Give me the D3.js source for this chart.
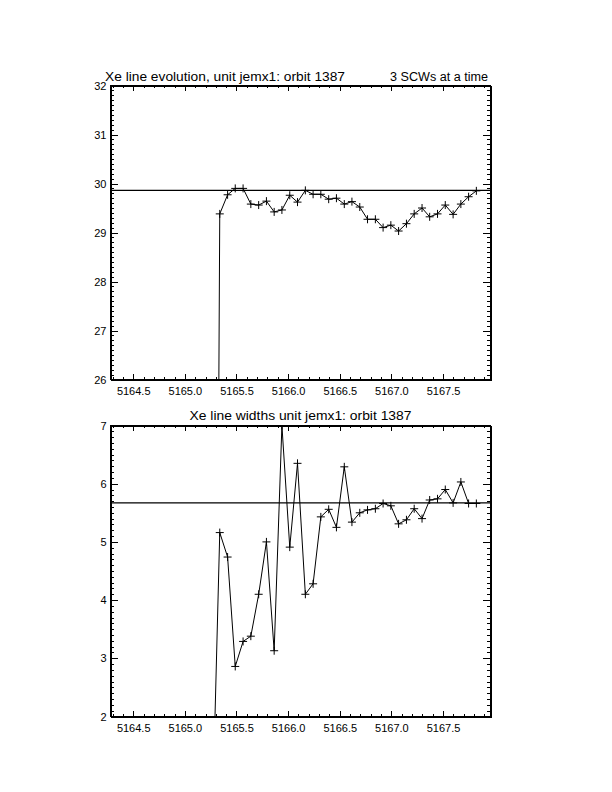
<!DOCTYPE html>
<html>
<head>
<meta charset="utf-8">
<script src="https://cdn.jsdelivr.net/npm/d3@7"></script>
<style>
  html, body { margin: 0; padding: 0; background: #fff; }
  svg { display: block; }
  text { font-family: "Liberation Sans", Arial, sans-serif; fill: #000; }
</style>
</head>
<body>
<svg id="chart" width="612" height="792"></svg>
<script>
// ---- data ----
const xValues = [5165.263, 5165.338, 5165.414, 5165.488, 5165.564, 5165.639, 5165.715,
  5165.790, 5165.865, 5165.940, 5166.016, 5166.091, 5166.167, 5166.242, 5166.317,
  5166.393, 5166.468, 5166.544, 5166.618, 5166.694, 5166.769, 5166.845, 5166.920,
  5166.995, 5167.070, 5167.146, 5167.221, 5167.297, 5167.371, 5167.447, 5167.522,
  5167.598, 5167.673, 5167.748, 5167.823];
const lineCentreValues = [0, 29.38, 29.77, 29.90, 29.90, 29.58, 29.56, 29.64, 29.42,
  29.46, 29.76, 29.62, 29.86, 29.78, 29.78, 29.68, 29.70, 29.58, 29.63, 29.52, 29.27,
  29.27, 29.10, 29.15, 29.03, 29.18, 29.38, 29.50, 29.32, 29.38, 29.56, 29.37, 29.58,
  29.73, 29.85];
const lineWidthValues = [0, 5.16, 4.74, 2.86, 3.29, 3.38, 4.10, 5.00, 3.13, 7.00, 4.91,
  6.35, 4.10, 4.28, 5.43, 5.56, 5.25, 6.29, 5.34, 5.50, 5.55, 5.57, 5.66, 5.62, 5.31,
  5.38, 5.57, 5.40, 5.72, 5.74, 5.90, 5.67, 6.03, 5.66, 5.66];
const centreMean = 29.86;
const widthMean = 5.67;

const xDomain = [5164.28, 5167.96];
const xTickValues = [5164.5, 5165.0, 5165.5, 5166.0, 5166.5, 5167.0, 5167.5];
const xTickLabels = ["5164.5", "5165.0", "5165.5", "5166.0", "5166.5", "5167.0", "5167.5"];
const topYDomain = [26, 32];
const topYTicks = [26, 27, 28, 29, 30, 31, 32];
const topYTickLabels = ["26", "27", "28", "29", "30", "31", "32"];
const botYDomain = [2, 7];
const botYTicks = [2, 3, 4, 5, 6, 7];
const botYTickLabels = ["2", "3", "4", "5", "6", "7"];
const topTitleLeft = "Xe line evolution, unit jemx1: orbit 1387";
const topTitleRight = "3 SCWs at a time";
const botTitle = "Xe line widths unit jemx1: orbit 1387";

// ---- drawing ----
const svg = d3.select("#chart");
const left = 110.5, right = 490.5;

function minorTicks(domain, step) {
  const out = [];
  const start = Math.ceil(domain[0] / step - 1e-9);
  const end = Math.floor(domain[1] / step + 1e-9);
  for (let i = start; i <= end; i++) out.push(+(i * step).toFixed(6));
  return out;
}

function panel(opts) {
  const { top, bottom, yDomain, yTicks, yLabels, values, mean, id } = opts;
  const x = d3.scaleLinear().domain(xDomain).range([left, right]);
  const y = d3.scaleLinear().domain(yDomain).range([bottom, top]);
  const h = bottom - top, w = right - left;
  const xMaj = h * 0.02, yMaj = w * 0.02;
  const g = svg.append("g");

  g.append("clipPath").attr("id", id).append("rect")
    .attr("x", left).attr("y", top).attr("width", w).attr("height", h);

  const xMinor = minorTicks(xDomain, 0.1);
  const yMinor = minorTicks(yDomain, 0.1);

  function axisGroup(tx, ty, axis) {
    const a = g.append("g").attr("transform", `translate(${tx},${ty})`);
    a.call(axis);
    return a;
  }
  // bottom axis
  axisGroup(0, bottom, d3.axisTop(x).tickValues(xMinor).tickSize(xMaj / 2).tickFormat(""));
  axisGroup(0, bottom, d3.axisTop(x).tickValues(xTickValues).tickSize(xMaj).tickFormat(""));
  const bLab = axisGroup(0, bottom, d3.axisBottom(x).tickValues(xTickValues).tickSize(0)
    .tickPadding(8).tickFormat((d, i) => xTickLabels[i]));
  bLab.select(".domain").remove();
  // top axis
  axisGroup(0, top, d3.axisBottom(x).tickValues(xMinor).tickSize(xMaj / 2).tickFormat(""));
  axisGroup(0, top, d3.axisBottom(x).tickValues(xTickValues).tickSize(xMaj).tickFormat(""));
  // left axis
  axisGroup(left, 0, d3.axisRight(y).tickValues(yMinor).tickSize(yMaj / 2).tickFormat(""));
  axisGroup(left, 0, d3.axisRight(y).tickValues(yTicks).tickSize(yMaj).tickFormat(""));
  const lLab = axisGroup(left, 0, d3.axisLeft(y).tickValues(yTicks).tickSize(0)
    .tickPadding(4).tickFormat((d, i) => yLabels[i]));
  lLab.select(".domain").remove();
  // right axis
  axisGroup(right, 0, d3.axisLeft(y).tickValues(yMinor).tickSize(yMaj / 2).tickFormat(""));
  axisGroup(right, 0, d3.axisLeft(y).tickValues(yTicks).tickSize(yMaj).tickFormat(""));

  g.selectAll(".domain").attr("stroke", "#000").attr("stroke-width", 1)
    .attr("shape-rendering", "crispEdges");
  g.selectAll(".tick line").attr("stroke", "#000").attr("stroke-width", 1)
    .attr("shape-rendering", "crispEdges");
  g.selectAll(".tick text").style("font-size", "11px")
    .style("font-family", "'Liberation Sans', Arial, sans-serif").attr("fill", "#000");

  // frame
  g.append("rect").attr("x", left).attr("y", top).attr("width", w).attr("height", h)
    .attr("fill", "none").attr("stroke", "#000").attr("stroke-width", 1)
    .attr("shape-rendering", "crispEdges");

  const data = xValues.map((xv, i) => [xv, values[i]]);
  const plot = g.append("g").attr("clip-path", `url(#${id})`);

  plot.append("line")
    .attr("x1", left).attr("x2", right)
    .attr("y1", y(mean)).attr("y2", y(mean))
    .attr("stroke", "#000").attr("stroke-width", 1.2);

  plot.append("path")
    .datum(data)
    .attr("d", d3.line().x(d => x(d[0])).y(d => y(d[1])))
    .attr("fill", "none").attr("stroke", "#000").attr("stroke-width", 1);

  const s = 4;
  plot.selectAll("path.mk").data(data).enter().append("path")
    .attr("class", "mk")
    .attr("d", d => {
      const px = x(d[0]), py = y(d[1]);
      return `M${px - s},${py}H${px + s}M${px},${py - s}V${py + s}`;
    })
    .attr("stroke", "#000").attr("stroke-width", 1).attr("fill", "none");
  return { x, y };
}

panel({ top: 85.5, bottom: 379.5, yDomain: topYDomain, yTicks: topYTicks,
  yLabels: topYTickLabels, values: lineCentreValues, mean: centreMean, id: "clipTop" });
panel({ top: 425.5, bottom: 716.5, yDomain: botYDomain, yTicks: botYTicks,
  yLabels: botYTickLabels, values: lineWidthValues, mean: widthMean, id: "clipBot" });

// titles
svg.append("text").attr("x", 105).attr("y", 81).style("font-size", "12px")
  .attr("textLength", 240).attr("lengthAdjust", "spacingAndGlyphs").text(topTitleLeft);
svg.append("text").attr("x", 390).attr("y", 81).style("font-size", "12px")
  .attr("textLength", 98).attr("lengthAdjust", "spacingAndGlyphs").text(topTitleRight);
svg.append("text").attr("x", 300.5).attr("y", 420).attr("text-anchor", "middle")
  .style("font-size", "12px").attr("textLength", 222).attr("lengthAdjust", "spacingAndGlyphs")
  .text(botTitle);
</script>
</body>
</html>
